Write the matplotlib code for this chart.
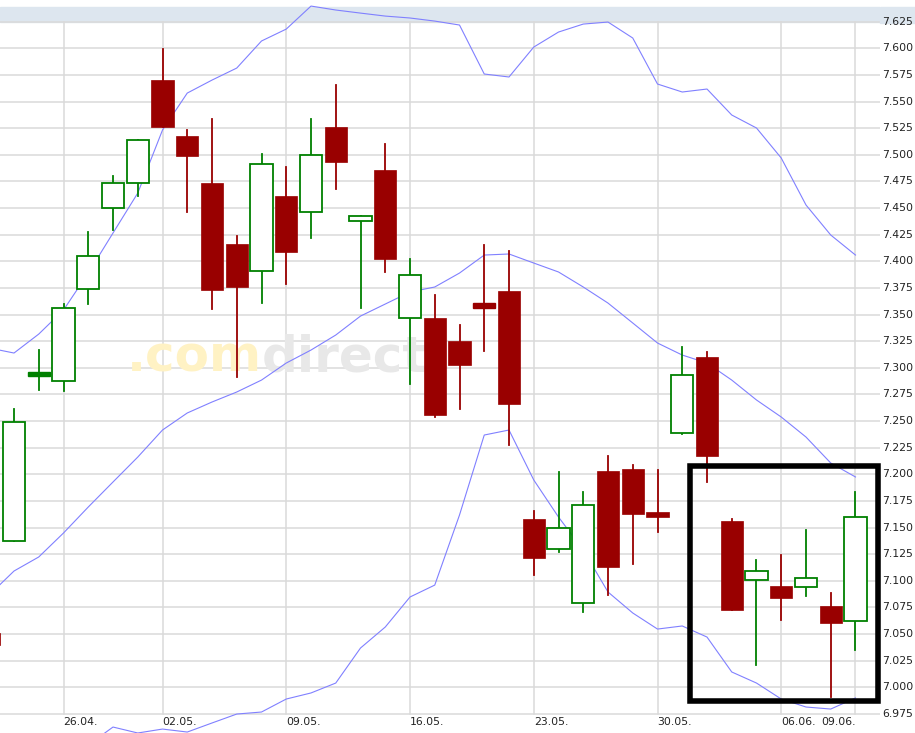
import matplotlib
matplotlib.use("Agg")
import numpy as np
from matplotlib import pyplot as plt
from matplotlib.patches import Rectangle

# trading days, index -1 = 19.04. (partly cut off)
idx = np.arange(-1, 35)
opens = [7.051, 7.137, 7.294, 7.288, 7.374, 7.450, 7.474, 7.570, 7.518, 7.474, 7.416, 7.391, 7.461,
         7.446, 7.526, 7.438, 7.486, 7.347, 7.347, 7.325, 7.359, 7.372, 7.158, 7.130, 7.079, 7.203,
         7.205, 7.165, 7.239, 7.310, 7.156, 7.101, 7.095, 7.094, 7.076, 7.062]
highs = [7.055, 7.261, 7.317, 7.360, 7.428, 7.480, 7.514, 7.599, 7.523, 7.534, 7.424, 7.501, 7.489,
         7.534, 7.566, 7.443, 7.510, 7.402, 7.368, 7.340, 7.415, 7.410, 7.166, 7.202, 7.183, 7.217,
         7.209, 7.204, 7.320, 7.315, 7.158, 7.120, 7.124, 7.148, 7.089, 7.183]
lows = [7.035, 7.137, 7.279, 7.278, 7.360, 7.429, 7.461, 7.526, 7.446, 7.355, 7.291, 7.361, 7.379,
        7.422, 7.468, 7.356, 7.390, 7.285, 7.254, 7.261, 7.316, 7.228, 7.105, 7.127, 7.071, 7.087,
        7.116, 7.146, 7.238, 7.193, 7.073, 7.021, 7.063, 7.086, 6.991, 7.035]
closes = [7.040, 7.249, 7.295, 7.356, 7.405, 7.474, 7.514, 7.526, 7.499, 7.373, 7.376, 7.491, 7.409,
          7.500, 7.493, 7.443, 7.402, 7.387, 7.256, 7.303, 7.358, 7.266, 7.121, 7.150, 7.171, 7.113,
          7.163, 7.160, 7.293, 7.217, 7.073, 7.109, 7.084, 7.103, 7.060, 7.160]
bb_upper = [7.3186, 7.3139, 7.3317, 7.3543, 7.3890, 7.4266, 7.4641, 7.5233, 7.5580, 7.5702, 7.5815,
            7.6069, 7.6181, 7.6397, 7.6360, 7.6331, 7.6303, 7.6285, 7.6256, 7.6219, 7.5759, 7.5731,
            7.6012, 7.6153, 7.6228, 7.6247, 7.6097, 7.5665, 7.5590, 7.5618, 7.5374, 7.5252, 7.4970,
            7.4529, 7.4247, 7.4059]
bb_mid = [7.0867, 7.1092, 7.1224, 7.1449, 7.1693, 7.1928, 7.2162, 7.2416, 7.2576, 7.2679, 7.2773,
          7.2885, 7.3045, 7.3167, 7.3308, 7.3486, 7.3599, 7.3712, 7.3759, 7.3890, 7.4059, 7.4069,
          7.3984, 7.3900, 7.3759, 7.3608, 7.3421, 7.3233, 7.3120, 7.3045, 7.2885, 7.2698, 7.2538,
          7.2350, 7.2106, 7.1975]
bb_lower = [6.8900, 6.9036, 6.9177, 6.9317, 6.9458, 6.9627, 6.9571, 6.9608, 6.9580, 6.9665, 6.9749,
            6.9768, 6.9890, 6.9947, 7.0040, 7.0369, 7.0566, 7.0848, 7.0960, 7.1618, 7.2369, 7.2416,
            7.1947, 7.1599, 7.1289, 7.0895, 7.0698, 7.0547, 7.0576, 7.0472, 7.0144, 7.0040, 6.9890,
            6.9815, 6.9796, 6.9900]
date_idx = [2, 6, 11, 16, 21, 26, 31, 34]
date_labels = ["26.04.", "02.05.", "09.05.", "16.05.", "23.05.", "30.05.", "06.06.", "09.06."]
yticks = np.round(np.arange(6.975, 7.6251, 0.025), 3)

RED = "#990000"
GREEN = "#008000"
GRID = "#dadada"
XMIN, XMAX = -0.566, 34.99
YMIN, YMAX = 6.9571, 7.6454

fig = plt.figure(figsize=(9.15, 7.33), dpi=100)
ax = fig.add_axes([0, 0, 880 / 915, 1])
ax.set_xlim(XMIN, XMAX)
ax.set_ylim(YMIN, YMAX)
ax.axis("off")

# header strip (runs under the price labels too) and grid
fig.patches.append(Rectangle((880 / 915, (733 - 23) / 733), 35 / 915, 16 / 733,
                             transform=fig.transFigure, color="#dde6ef", zorder=0))
ax.axhspan(7.625, 7.6388, color="#dde6ef", zorder=0)
for y in yticks:
    ax.plot([XMIN, XMAX], [y, y], color=GRID, lw=1.1, zorder=1)
    fig.text(882 / 915, ax.transData.transform((0, y))[1] / 733, f"{y:.3f}",
             fontsize=7.8, va="center", ha="left", color="#222222")
for i, lab in zip(date_idx, date_labels):
    ax.plot([i, i], [6.975, 7.625], color=GRID, lw=1.1, zorder=1)
    ha = "right" if lab == "09.06." else "left"
    ax.text(i, 6.9725, lab, fontsize=7.8, ha=ha, va="top", color="#222222")

# watermark
ax.text(10.0, 7.31, ".com", fontsize=36, fontweight="bold", color="#fff2c4",
        ha="right", va="center", zorder=1)
ax.text(10.0, 7.31, "direct", fontsize=36, fontweight="bold", color="#e8e8e8",
        ha="left", va="center", zorder=1)

# bollinger bands
for band in (bb_upper, bb_mid, bb_lower):
    ax.plot(idx, band, color="#8080ff", lw=0.8, zorder=2)

# candles
w = 0.89
for i, o, h, l, c in zip(idx, opens, highs, lows, closes):
    up = c > o
    col = GREEN if up else RED
    lo, hi = min(o, c), max(o, c)
    ax.plot([i, i], [l, h], color=col, lw=1.3, zorder=3)
    if hi - lo < 0.004:
        ax.add_patch(Rectangle((i - w / 2, (lo + hi) / 2 - 0.002), w, 0.004, color=col, zorder=4))
    elif up:
        ax.add_patch(Rectangle((i - w / 2, lo), w, hi - lo, facecolor="white",
                               edgecolor=col, lw=1.3, zorder=4))
    else:
        ax.add_patch(Rectangle((i - w / 2, lo), w, hi - lo, facecolor=col,
                               edgecolor=col, lw=0.5, zorder=4))

# highlight box
box_x0, box_x1 = 27.31, 34.91
box_y0, box_y1 = 6.9871, 7.2078
ax.add_patch(Rectangle((box_x0, box_y0), box_x1 - box_x0, box_y1 - box_y0,
                       fill=False, edgecolor="black", lw=4, zorder=6, clip_on=False))

fig.savefig("out.png", dpi=100)
